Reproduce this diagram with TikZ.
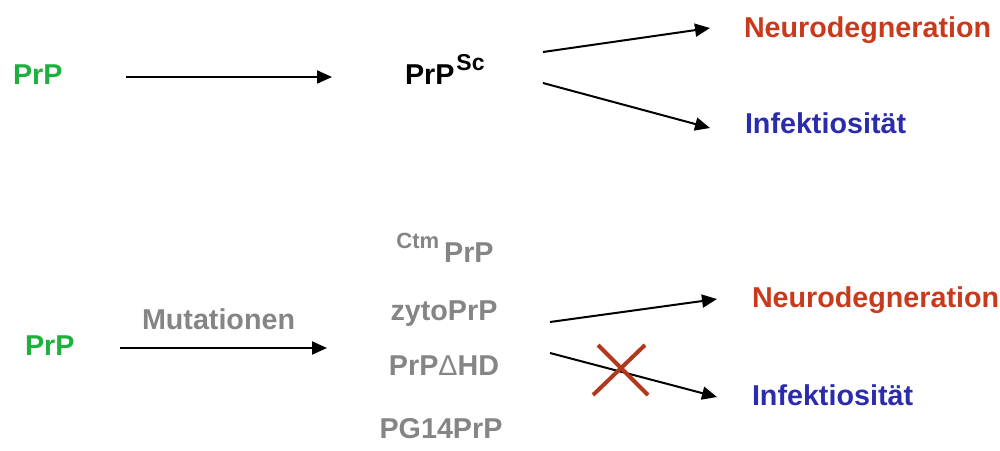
\documentclass[tikz,border=0pt]{standalone}
\usepackage{fontspec}
\setmainfont{Liberation Sans}
\usetikzlibrary{arrows.meta}
\definecolor{prpgreen}{HTML}{1EB03C}
\definecolor{outred}{HTML}{C93A1C}
\definecolor{outblue}{HTML}{2B2BAE}
\definecolor{mutgray}{HTML}{858585}
\definecolor{crossred}{HTML}{B0381F}
\begin{document}
\begin{tikzpicture}[x=1pt,y=-1pt,
  lbl/.style={inner sep=0pt,outer sep=0pt,anchor=base west,
    font=\fontsize{28.7}{30}\selectfont\bfseries},
  mlbl/.style={lbl,anchor=base,text=mutgray},
  conn/.style={line width=2pt,-{Triangle[length=15pt,width=13pt]}},
  block/.style={line width=4pt,draw=crossred}]
\useasboundingbox (0,0) rectangle (1000,450);

% --- upper pathway: PrP -> PrP^Sc -> outcomes
\node[lbl,text=prpgreen] (prpA) at (13,84) {PrP};
\node[lbl] (prpsc) at (405,84) {PrP\hspace{2pt}\raisebox{14pt}{\fontsize{23}{23}\selectfont Sc}};
\node[lbl,text=outred] (neuroA) at (744,37) {Neurodegneration};
\node[lbl,text=outblue] (infA) at (745,133) {Infektiosität};

\coordinate (aS) at (126,77);  \coordinate (aE) at (332,77);
\coordinate (bS) at (543,52);  \coordinate (bE) at (710,28);
\coordinate (cS) at (543,83);  \coordinate (cE) at (710,128);
\draw[conn] (aS) -- (aE);
\draw[conn] (bS) -- (bE);
\draw[conn] (cS) -- (cE);

% --- lower pathway: mutated PrP variants
\node[lbl,text=prpgreen] (prpB) at (25,355) {PrP};
\node[lbl,text=mutgray] (mut) at (142,329) {Mutationen};
\node[mlbl] (ctm) at (445,262) {\raisebox{14pt}{\fontsize{22}{22}\selectfont Ctm}\hspace{5pt}PrP};
\node[mlbl] (zyto) at (444,320) {zytoPrP};
\node[mlbl] (dhd) at (444,375) {PrP{\mdseries Δ}HD};
\node[mlbl] (pg14) at (441,438) {PG14PrP};
\node[lbl,text=outred] (neuroB) at (752,307) {Neurodegneration};
\node[lbl,text=outblue] (infB) at (752,405) {Infektiosität};

\coordinate (dS) at (120,348); \coordinate (dE) at (327,348);
\coordinate (eS) at (550,322); \coordinate (eE) at (717,299);
\coordinate (fS) at (550,353); \coordinate (fE) at (717,397);
\draw[conn] (dS) -- (dE);
\draw[conn] (eS) -- (eE);
\draw[conn] (fS) -- (fE);

% blocked route to infectivity
\coordinate (x1) at (593,395); \coordinate (x2) at (645,345);
\coordinate (x3) at (598,345); \coordinate (x4) at (648,395);
\draw[block] (x1) -- (x2);
\draw[block] (x3) -- (x4);
\end{tikzpicture}
\end{document}
